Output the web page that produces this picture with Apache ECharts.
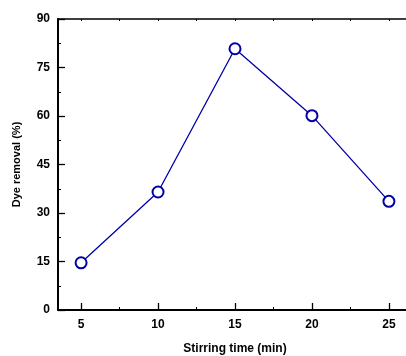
<!DOCTYPE html>
<html><head><meta charset="utf-8">
<script src="https://cdn.jsdelivr.net/npm/echarts@6/dist/echarts.min.js"></script>
<style>html,body{margin:0;padding:0;background:#fff}#c{width:406px;height:356px}</style>
</head><body><div id="c"></div>
<script>
const stirringTime = [5, 10, 15, 20, 25];
const dyeRemoval = [14.6, 36.5, 80.8, 60.1, 33.6];
const xTicks = [5, 10, 15, 20, 25];
const xMinorTicks = [7.5, 12.5, 17.5, 22.5];
const topTicks = [5, 7.5, 10, 12.5, 15, 17.5, 20, 22.5, 25];

const chart = echarts.init(document.getElementById('c'));
const font = 'Liberation Sans, Arial, sans-serif';
const pts = stirringTime.map((t, i) => [t, dyeRemoval[i]]);
chart.setOption({
  animation: false,
  grid: { left: 58, top: 19, width: 354, height: 291, containLabel: false, outerBoundsMode: 'none' },
  xAxis: [
    {
      type: 'value', min: 3.5, max: 26.5, position: 'bottom',
      name: 'Stirring time (min)', nameLocation: 'middle', nameGap: 33,
      nameTextStyle: { fontFamily: font, fontWeight: 'bold', fontSize: 12, color: '#000' },
      axisLine: { lineStyle: { color: '#000', width: 2 } },
      axisTick: { inside: true, length: 7, lineStyle: { color: '#000', width: 1.3 }, customValues: xTicks },
      axisLabel: { customValues: xTicks, fontFamily: font, fontWeight: 'bold', fontSize: 12, color: '#000', margin: 9 },
      splitLine: { show: false }
    },
    {
      type: 'value', min: 3.5, max: 26.5, position: 'bottom', gridIndex: 0,
      axisLine: { show: false },
      axisTick: { inside: true, length: 3, lineStyle: { color: '#000', width: 1 }, customValues: xMinorTicks },
      axisLabel: { show: false, customValues: xMinorTicks },
      splitLine: { show: false }
    },
    {
      type: 'value', min: 3.5, max: 26.5, position: 'top',
      axisLine: { show: true, lineStyle: { color: '#000', width: 1.5 } },
      axisTick: { inside: true, length: 2, lineStyle: { color: '#000', width: 1 }, customValues: topTicks },
      axisLabel: { show: false, customValues: topTicks },
      splitLine: { show: false }
    }
  ],
  yAxis: {
    type: 'value', min: 0, max: 90, interval: 15,
    name: 'Dye removal (%)', nameLocation: 'middle', nameGap: 36,
    nameTextStyle: { fontFamily: font, fontWeight: 'bold', fontSize: 11, color: '#000' },
    axisLine: { show: true, lineStyle: { color: '#000', width: 2 } },
    axisTick: { show: true, inside: true, length: 7, lineStyle: { color: '#000', width: 1.3 } },
    minorTick: { show: true, splitNumber: 2, length: 3, lineStyle: { color: '#000', width: 1 } },
    axisLabel: { fontFamily: font, fontWeight: 'bold', fontSize: 12, color: '#000', margin: 8 },
    splitLine: { show: false }
  },
  series: [
    {
      type: 'line', data: pts, xAxisIndex: 0,
      symbol: 'emptyCircle', symbolSize: 11,
      lineStyle: { color: '#0000a8', width: 1.3 },
      itemStyle: { color: '#0000a8', borderWidth: 1.4 }
    },
    {
      type: 'scatter', data: pts, xAxisIndex: 0,
      symbol: 'circle', symbolSize: 1.6, silent: true,
      itemStyle: { color: '#0000a8' }
    }
  ]
});
</script></body></html>
